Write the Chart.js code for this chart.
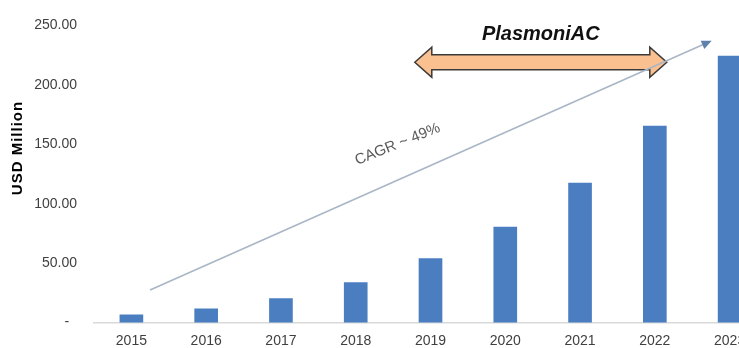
<!DOCTYPE html>
<html>
<head>
<meta charset="utf-8">
<script src="https://cdn.jsdelivr.net/npm/chart.js@4/dist/chart.umd.min.js"></script>
<style>
  html, body { margin: 0; padding: 0; background: #fff; overflow: hidden; width: 739px; height: 348px; }
  #wrap { width: 767px; height: 348px; }
</style>
</head>
<body>
<div id="wrap"><canvas id="market" width="767" height="348"></canvas></div>
<script>
// values (USD Million)
var years = ['2015', '2016', '2017', '2018', '2019', '2020', '2021', '2022', '2023'];
var marketSize = [6.6, 11.6, 20.2, 33.7, 53.9, 80.4, 117.4, 165.3, 224.2];
var yTicks = [0, 50, 100, 150, 200, 250];

// annotations, in [category index, USD Million]
var cagrStart = [0.25, 27.4];
var cagrEnd = [7.76, 237];
var cagrLabel = 'CAGR ~ 49%';
var cagrLabelAt = [3.56, 150];
var projectSpan = [3.79, 7.16];
var projectLevel = 219;
var projectLabel = 'PlasmoniAC';
var projectLabelLevel = 242.5;

var annotations = {
  id: 'annotations',
  afterDatasetsDraw: function(chart) {
    var ctx = chart.ctx;
    var x = chart.scales.x, y = chart.scales.y;
    ctx.save();

    // y axis title
    ctx.save();
    ctx.translate(18, 148);
    ctx.rotate(-Math.PI / 2);
    ctx.font = 'bold 15px Arial';
    ctx.letterSpacing = '1px';
    ctx.fillStyle = '#000';
    ctx.textAlign = 'center';
    ctx.textBaseline = 'middle';
    ctx.fillText('USD Million', 0, 0);
    ctx.restore();

    // orange double arrow
    var xl = x.getPixelForValue(projectSpan[0]);
    var xr = x.getPixelForValue(projectSpan[1]);
    var cy = y.getPixelForValue(projectLevel);
    var head = 17, hh = 15, sh = 7.5;
    ctx.beginPath();
    ctx.moveTo(xl, cy);
    ctx.lineTo(xl + head, cy - hh);
    ctx.lineTo(xl + head, cy - sh);
    ctx.lineTo(xr - head, cy - sh);
    ctx.lineTo(xr - head, cy - hh);
    ctx.lineTo(xr, cy);
    ctx.lineTo(xr - head, cy + hh);
    ctx.lineTo(xr - head, cy + sh);
    ctx.lineTo(xl + head, cy + sh);
    ctx.lineTo(xl + head, cy + hh);
    ctx.closePath();
    ctx.fillStyle = '#FAC08F';
    ctx.fill();
    ctx.lineWidth = 1.5;
    ctx.strokeStyle = '#3a3a3a';
    ctx.stroke();

    ctx.font = 'italic bold 20px Arial';
    ctx.fillStyle = '#111';
    ctx.textAlign = 'center';
    ctx.textBaseline = 'middle';
    ctx.fillText(projectLabel, (xl + xr) / 2, y.getPixelForValue(projectLabelLevel));

    // CAGR trend arrow
    var x1 = x.getPixelForValue(cagrStart[0]), y1 = y.getPixelForValue(cagrStart[1]);
    var x2 = x.getPixelForValue(cagrEnd[0]), y2 = y.getPixelForValue(cagrEnd[1]);
    var ang = Math.atan2(y2 - y1, x2 - x1);
    ctx.beginPath();
    ctx.moveTo(x1, y1);
    ctx.lineTo(x2 - 8 * Math.cos(ang), y2 - 8 * Math.sin(ang));
    ctx.strokeStyle = '#A9B6C6';
    ctx.lineWidth = 1.6;
    ctx.stroke();
    ctx.save();
    ctx.translate(x2, y2);
    ctx.rotate(ang);
    ctx.beginPath();
    ctx.moveTo(0, 0);
    ctx.lineTo(-10, -4.5);
    ctx.lineTo(-10, 4.5);
    ctx.closePath();
    ctx.fillStyle = '#5F82AC';
    ctx.fill();
    ctx.restore();

    ctx.save();
    ctx.translate(x.getPixelForValue(cagrLabelAt[0]), y.getPixelForValue(cagrLabelAt[1]));
    ctx.rotate(-22 * Math.PI / 180);
    ctx.font = '15px Arial';
    ctx.fillStyle = '#595959';
    ctx.textAlign = 'center';
    ctx.textBaseline = 'middle';
    ctx.fillText(cagrLabel, 0, 0);
    ctx.restore();

    ctx.restore();
  }
};

var chart = new Chart('market', {
  type: 'bar',
  data: {
    labels: years,
    datasets: [{
      data: marketSize,
      backgroundColor: '#4A7EC0',
      barThickness: 23
    }]
  },
  options: {
    responsive: false,
    animation: false,
    layout: { padding: { top: 21, left: 0, right: 0, bottom: 0 } },
    plugins: {
      legend: { display: false },
      tooltip: { enabled: false }
    },
    scales: {
      x: {
        grid: { display: false, drawTicks: false },
        border: { color: '#D9D9D9', width: 1.5 },
        ticks: { color: '#404040', font: { family: 'Arial', size: 14 }, padding: 10, maxRotation: 0, autoSkip: false },
        afterFit: function(s) { s.height = 25; }
      },
      y: {
        min: 0,
        max: 250,
        afterBuildTicks: function(s) { s.ticks = yTicks.map(function(v) { return { value: v }; }); },
        grid: { display: false, drawTicks: false },
        border: { display: false },
        ticks: {
          color: '#404040',
          font: { family: 'Arial', size: 14 },
          padding: 17,
          callback: function(v) { return v === 0 ? '-  ' : v.toFixed(2); }
        },
        afterFit: function(s) { s.width = 94; }
      }
    }
  },
  plugins: [annotations]
});
</script>
</body>
</html>
